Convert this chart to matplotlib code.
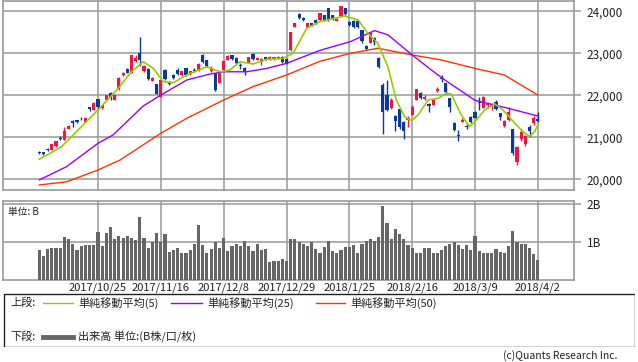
import numpy as np
import matplotlib
matplotlib.use("Agg")
import matplotlib.pyplot as plt
from matplotlib.patches import Rectangle

plt.rcParams['font.family'] = ['Noto Sans CJK JP', 'DejaVu Sans']

### data ###############################
# daily candles, index 0 .. 119 (2017/10/4 .. 2018/4/2)
opens = [20660, 20640, 20720, 20700, 20790, 20980, 20940, 21200, 21380, 21400,
         21440, 21370, 21720, 21650, 21900, 21690, 21890, 22060, 21890, 22140,
         22480, 22620, 22530, 22810, 23000, 22580, 22620, 22350, 22270, 21970,
         22600, 22300, 22480, 22600, 22480, 22650, 22500, 22610, 22600, 22960,
         22840, 22580, 22530, 22300, 22600, 22840, 22950, 22880, 22730, 22650,
         22780, 22980, 22840, 22800, 22900, 22850, 22860, 22870, 22920, 22860,
         23070, 23630, 23930, 23850, 23630, 23720, 23800, 23790, 23900, 24070,
         23900, 23780, 23890, 24070, 23740, 23780, 23780, 23550, 23180, 23250,
         23370, 22890, 22250, 22000, 21690, 21510, 21670, 21360, 21400, 21530,
         21890, 22060, 21900, 21790, 21770, 22110, 22400, 22290, 21930, 21350,
         21060, 21370, 21260, 21490, 21610, 21830, 21700, 21770, 21750, 21830,
         21570, 21270, 21400, 21190, 20420, 20950, 20850, 21250, 21350, 21430]
closes = [20620, 20610, 20690, 20840, 20900, 20960, 21150, 21270, 21330, 21360,
          21425, 21470, 21680, 21810, 21710, 21770, 22000, 21950, 22000, 22420,
          22540, 22540, 22950, 22890, 22850, 22700, 22380, 22410, 22030, 22360,
          22380, 22280, 22400, 22500, 22580, 22480, 22580, 22590, 22740, 22800,
          22690, 22650, 22130, 22530, 22820, 22940, 22860, 22760, 22700, 22550,
          22900, 22868, 22891, 22866, 22860, 22920, 22900, 22911, 22790, 22764,
          23506, 23714, 23849, 23788, 23710, 23653, 23714, 23951, 23790, 23790,
          23808, 23816, 24124, 23940, 23669, 23631, 23629, 23291, 23098, 23486,
          23274, 22682, 21610, 21645, 21891, 21382, 21244, 21154, 21464, 21720,
          22149, 21925, 21970, 21736, 21892, 22153, 22389, 22068, 21724, 21182,
          21042, 21417, 21252, 21368, 21469, 21824, 21950, 21777, 21803, 21676,
          21480, 21380, 21600, 20617, 20766, 21130, 21031, 21159, 21454, 21388]
highs = [20680, 20660, 20740, 20850, 20910, 21030, 21250, 21290, 21400, 21420,
         21480, 21480, 21730, 21830, 21910, 21780, 22010, 22070, 22010, 22430,
         22560, 22640, 22960, 22950, 23390, 22720, 22640, 22430, 22280, 22370,
         22620, 22330, 22500, 22640, 22590, 22660, 22590, 22640, 22760, 22990,
         22850, 22700, 22540, 22540, 22830, 22950, 22960, 22900, 22780, 22670,
         22920, 23000, 22910, 22890, 22920, 22940, 22920, 22930, 22930, 22880,
         23510, 23730, 23950, 23860, 23720, 23730, 23810, 23960, 23910, 24090,
         23910, 23830, 24130, 24090, 23760, 23800, 23790, 23560, 23200, 23500,
         23380, 22900, 22300, 22360, 21930, 21520, 21700, 21380, 21500, 21780,
         22160, 22080, 22010, 21810, 21910, 22200, 22480, 22300, 21940, 21370,
         21180, 21460, 21330, 21500, 21620, 21960, 21990, 21850, 21820, 21880,
         21580, 21400, 21710, 21200, 20790, 21200, 21060, 21300, 21500, 21600]
lows = [20600, 20590, 20680, 20690, 20780, 20940, 20930, 21190, 21250, 21340,
        21400, 21360, 21620, 21640, 21700, 21680, 21880, 21890, 21880, 22130,
        22470, 22520, 22520, 22800, 22700, 22560, 22370, 22340, 22020, 21960,
        22370, 22240, 22390, 22490, 22470, 22470, 22490, 22560, 22590, 22780,
        22680, 22560, 22100, 22290, 22590, 22830, 22850, 22740, 22620, 22480,
        22760, 22850, 22830, 22720, 22850, 22840, 22850, 22860, 22770, 22740,
        23060, 23620, 23820, 23770, 23620, 23640, 23690, 23780, 23770, 23770,
        23790, 23770, 23880, 23920, 23640, 23600, 23600, 23250, 23070, 23240,
        23200, 22650, 21080, 21620, 21680, 21150, 21200, 20950, 21250, 21520,
        21880, 21900, 21880, 21600, 21760, 22090, 22310, 22040, 21600, 21150,
        20900, 21360, 21200, 21350, 21450, 21650, 21690, 21700, 21650, 21660,
        21400, 21250, 21380, 20580, 20350, 20900, 20800, 21000, 21300, 21360]

# volume in B shares
volume = [0.78, 0.62, 0.81, 0.83, 0.85, 0.85, 1.14, 1.07, 0.96, 0.78,
          0.89, 0.91, 0.93, 0.93, 1.27, 0.89, 1.24, 1.40, 1.07, 1.17,
          1.11, 1.17, 1.11, 1.06, 1.67, 1.11, 0.85, 1.01, 1.24, 1.01,
          1.20, 0.75, 0.80, 0.85, 0.70, 0.70, 0.80, 0.96, 1.46, 0.93,
          0.72, 0.81, 1.01, 0.83, 1.11, 0.76, 0.90, 0.96, 0.90, 1.03,
          0.90, 0.76, 0.96, 0.78, 0.82, 0.47, 0.51, 0.51, 0.54, 0.51,
          1.07, 1.07, 0.99, 0.94, 0.89, 0.99, 0.81, 0.72, 0.86, 1.03,
          0.76, 0.70, 0.78, 0.86, 0.86, 0.91, 0.72, 0.94, 1.03, 1.07,
          1.03, 1.12, 1.96, 1.49, 1.09, 1.33, 1.20, 1.09, 0.91, 0.83,
          0.72, 0.72, 0.83, 0.83, 0.70, 0.70, 0.78, 0.89, 0.96, 1.01,
          0.91, 0.81, 0.91, 0.78, 1.17, 0.76, 0.72, 0.70, 0.70, 0.81,
          0.74, 0.70, 0.89, 1.28, 1.01, 0.96, 0.94, 0.83, 0.68, 0.52]

# moving averages, read at (candle index, value)
ma5_idx = [0, 5.3, 14, 18.5, 22, 24.8, 27.2, 29.6, 32, 35.2, 39.9, 43.1, 45.5,
           47.9, 51, 54.3, 58.2, 60.6, 63.8, 67, 72.9, 76.1, 78.4, 80.8, 83.2,
           85.2, 87.2, 88.8, 90.4, 92.8, 95.2, 97.1, 98.3, 100.7, 102.7, 104.3,
           106.3, 108.7, 110.7, 113.5, 115.4, 117, 118.2, 119]
ma5_val = [20476, 20776, 21650, 22124, 22560, 22800, 22640, 22323, 22300, 22483,
           22680, 22560, 22600, 22800, 22745, 22857, 22880, 23000, 23595, 23754,
           23888, 23793, 23476, 23238, 22680, 21888, 21490, 21396, 21531, 21888,
           21928, 22047, 22031, 21531, 21252, 21412, 21650, 21793, 21650, 21333,
           21134, 21015, 21134, 21293]
ma25_idx = [0, 6.5, 14, 17.6, 24.8, 29, 35.2, 40.7, 44, 49.5, 54.3, 59, 67,
            74.3, 80, 83.2, 89, 93.6, 96.8, 104, 111.9, 119]
ma25_val = [19985, 20300, 20857, 21055, 21745, 22005, 22364, 22505, 22560, 22560,
            22640, 22760, 23070, 23280, 23540, 23440, 22960, 22600, 22364, 21880,
            21690, 21507]
ma50_idx = [0, 6.5, 14, 19.3, 29, 35.2, 44, 51, 59, 67, 74.3, 80.8, 89, 96,
            104, 111, 119]
ma50_val = [19865, 19940, 20220, 20460, 21095, 21452, 21888, 22205, 22483, 22810,
            23000, 23120, 22960, 22840, 22640, 22483, 22005]

tick_idx = [14, 29, 44, 59, 74, 89, 104, 119]
tick_lbl = ['2017/10/25', '2017/11/16', '2017/12/8', '2017/12/29',
            '2018/1/25', '2018/2/16', '2018/3/9', '2018/4/2']
price_ticks = [20000, 21000, 22000, 23000, 24000]
vol_ticks = [1, 2]
vol_lbl = ['1B', '2B']
#########################################

W, H = 638, 362
fig = plt.figure(figsize=(W/100, H/100), dpi=100)
gridc = '#999999'
up_c = '#f5123f'
dn_c = '#0a3a96'

def px_axes(x0, y0, x1, y1):
    return fig.add_axes([x0/W, 1-y1/H, (x1-x0)/W, (y1-y0)/H])

ax = px_axes(3, 1, 574, 190)
axv = px_axes(3, 201, 574, 280)

xs = np.arange(len(closes))
o = np.array(opens); c = np.array(closes)
colors = [up_c if cc >= oo else dn_c for oo, cc in zip(o, c)]
ax.vlines(xs, lows, highs, colors=colors, lw=1, zorder=3)
body_lo = np.minimum(o, c)
body_h = np.maximum(np.abs(c - o), 22)
ax.bar(xs, body_h, bottom=body_lo, width=0.75, color=colors, lw=0, zorder=4)

ax.plot(ma50_idx, ma50_val, color='#ff3300', lw=1, zorder=5)
ax.plot(ma25_idx, ma25_val, color='#9900ff', lw=1, zorder=5)
ax.plot(ma5_idx, ma5_val, color='#99cc00', lw=1.2, zorder=6)

xl = ((3-39.3)/4.19, (574-39.3)/4.19)
ax.set_xlim(*xl)
ax.set_ylim(19745, 24245)
ax.set_xticks(tick_idx)
ax.set_xticklabels([])
ax.set_yticks(price_ticks)
ax.set_yticklabels(['{:,}'.format(v) for v in price_ticks])

axv.bar(xs, volume, width=0.75, color='#666666', lw=0, zorder=3)
axv.set_xlim(*xl)
axv.set_ylim(0, 2.08)
axv.set_xticks(tick_idx)
axv.set_xticklabels(tick_lbl)
axv.set_yticks(vol_ticks)
axv.set_yticklabels(vol_lbl)
axv.text(0.008, 0.93, '単位: B', transform=axv.transAxes, fontsize=7,
         va='top', ha='left', color='#222222')

for a in (ax, axv):
    a.grid(True, color=gridc, lw=1.1, zorder=0)
    a.set_axisbelow(True)
    for s in a.spines.values():
        s.set_color(gridc)
        s.set_linewidth(1.2)
    a.yaxis.tick_right()
    a.tick_params(axis='y', direction='out', length=5, width=1.1,
                  color=gridc, labelsize=8.5, labelcolor='#222222', pad=4)
    a.tick_params(axis='x', length=0, labelsize=8, labelcolor='#222222', pad=1.5)

# legend box
lg = px_axes(3, 293, 635, 347)
lg.set_xlim(3, 635)
lg.set_ylim(347, 293)
lg.axis('off')
lg.add_patch(Rectangle((3.5, 293.5), 631, 53, fill=False, ec='#222222', lw=1))
fs = 8
lg.text(10, 303, '上段:', fontsize=fs, va='center', color='#222222')
for x0, x1, col, tx, lbl in [(43, 73, '#99cc00', 78, '単純移動平均(5)'),
                             (171, 202, '#9900ff', 207, '単純移動平均(25)'),
                             (316, 345, '#ff3300', 350, '単純移動平均(50)')]:
    lg.plot([x0, x1], [303, 303], color=col, lw=1)
    lg.text(tx, 303, lbl, fontsize=fs, va='center', color='#222222')
lg.text(10, 337, '下段:', fontsize=fs, va='center', color='#222222')
lg.plot([43, 73], [337, 337], color='#666666', lw=3.5)
lg.text(78, 337, '出来高 単位:(B株/口/枚)', fontsize=fs, va='center', color='#222222')

fig.text(617/W, 1-356/H, '(c)Quants Research Inc.', fontsize=7.5, ha='right',
         va='center', color='#222222')

fig.savefig('out.png', dpi=100)
